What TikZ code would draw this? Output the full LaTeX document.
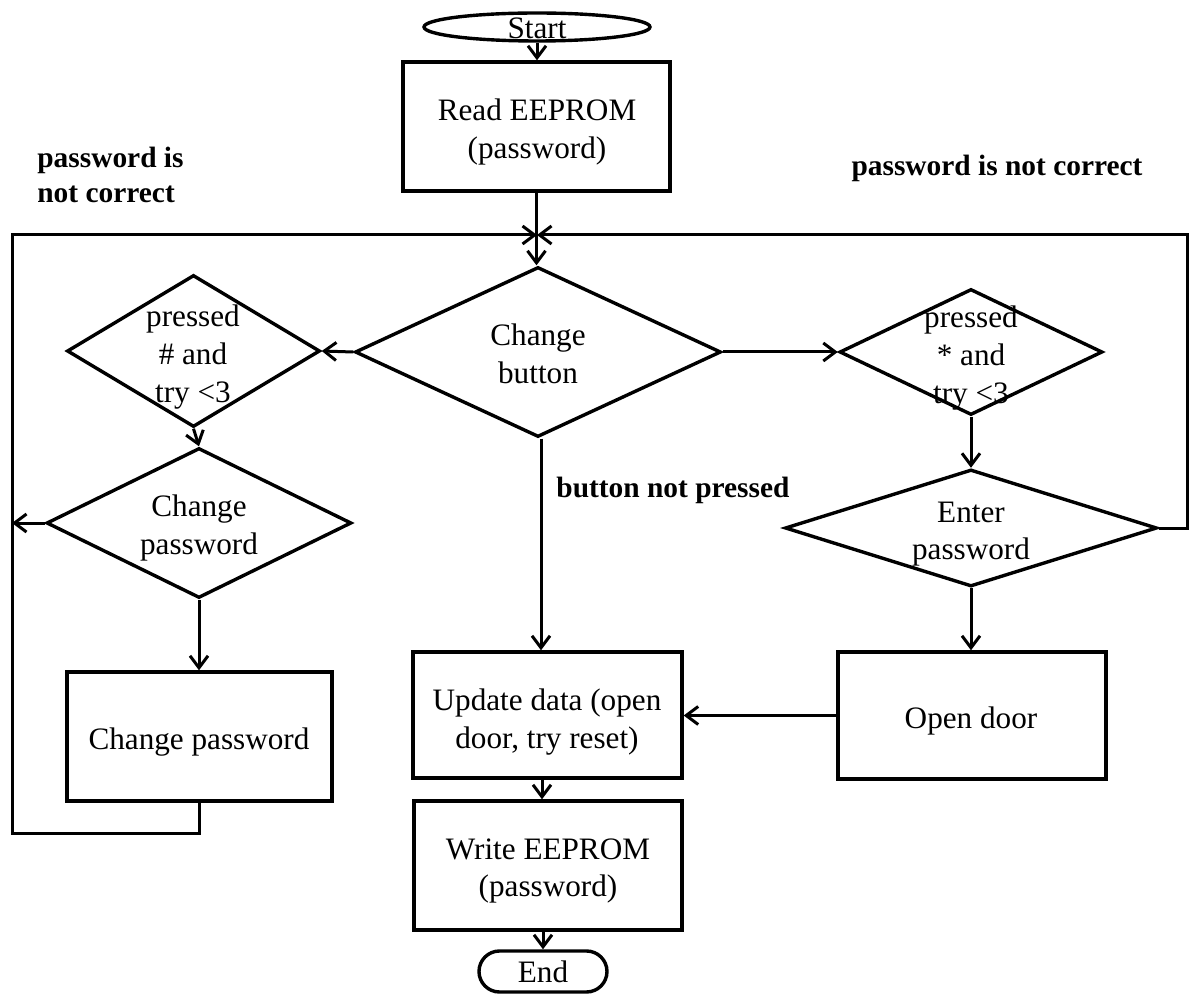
\documentclass[tikz,border=0pt]{standalone}
\usepackage{fontspec}
\setmainfont{Liberation Serif}
\usetikzlibrary{arrows.meta,shapes.geometric,shapes.misc}

\begin{document}
\begin{tikzpicture}[x=0.5pt,y=-0.5pt,
  shp/.style={draw, line width=1.7pt, inner sep=0pt},
  box/.style={shp, rectangle},
  dia/.style={shp, diamond},
  txt/.style={font=\fontsize{15.6}{18.8}\selectfont, align=center, inner sep=0pt},
  note/.style={font=\fontsize{14.7}{17.5}\selectfont\bfseries, align=left, inner sep=0pt},
  ln/.style={line width=1.5pt},
  arr/.style={ln, -{Straight Barb[length=6pt,width=9pt,line width=1.5pt]}}]
\useasboundingbox (0,0) rectangle (1194,994);

% terminals
\node[shp, ellipse, minimum width=113pt, minimum height=14pt] (start) at (537,27) {};
\node[txt] (tstart) at (537,28) {Start};
\node[shp, rounded rectangle, minimum width=64pt, minimum height=20.5pt] (end) at (543,971.5) {};
\node[txt] (tend) at (543,972) {End};

% process boxes
\node[box, minimum width=133.5pt, minimum height=64.5pt] (read) at (536.5,126.5) {};
\node[txt] (tread) at (537,132) {Read EEPROM\\(password)};
\node[box, minimum width=134.5pt, minimum height=63pt] (upd) at (547.5,715) {};
\node[txt] (tupd) at (547,722) {Update data (open\\door, try reset)};
\node[box, minimum width=134pt, minimum height=63.5pt] (open) at (972,715.5) {};
\node[txt] (topen) at (971,721) {Open door};
\node[box, minimum width=134pt, minimum height=64.5pt] (write) at (548,865.5) {};
\node[txt] (twrite) at (548,871) {Write EEPROM\\(password)};
\node[box, minimum width=132.5pt, minimum height=64.5pt] (chg) at (199.5,736.5) {};
\node[txt] (tchg) at (199,742) {Change password};

% decisions
\node[dia, minimum width=183pt, minimum height=85pt] (dc) at (538,352) {};
\node[txt] (tdc) at (538,354) {Change\\button};
\node[dia, minimum width=126.5pt, minimum height=76pt] (dl1) at (193.5,351) {};
\node[txt] (tdl1) at (193,357) {pressed\\\# and\\try <3};
\node[dia, minimum width=152.5pt, minimum height=75pt] (dl2) at (199,523) {};
\node[txt] (tdl2) at (199,528) {Change\\password};
\node[dia, minimum width=131.5pt, minimum height=63pt] (dr1) at (971,352) {};
\node[txt] (tdr1) at (971,358) {pressed\\* and\\try <3};
\node[dia, minimum width=186pt, minimum height=58.5pt] (dr2) at (971,528) {};
\node[txt] (tdr2) at (971,534) {Enter\\password};

% free labels
\node[note, anchor=west] (nl) at (37,175) {password is\\not correct};
\node[note] (nr) at (997,168) {password is not correct};
\node[note, anchor=west] (nb) at (556,490) {button not pressed};

% loop corners
\coordinate (J) at (537,235);
\coordinate (lb) at (12,833);
\coordinate (rt) at (1187,235);

% main flow
\draw[arr] (start.south) -- (start.south |- read.north);
\draw[arr] (read.south) -- (read.south |- dc.north);
\draw[arr] (dc.west) -- (dl1.east);
\draw[arr] (dc.east) -- (dr1.west);
\draw[arr] ([xshift=1.5pt]dc.south) -- ([xshift=1.5pt]dc.south |- upd.north);
\draw[arr] (dl1.south) -- (dl2.north);
\draw[arr] (dl2.south) -- (dl2.south |- chg.north);
\draw[arr] (dr1.south) -- (dr2.north);
\draw[arr] (dr2.south) -- (dr2.south |- open.north);
\draw[arr] (open.west) -- (open.west -| upd.east);
\draw[arr] ([xshift=-2.75pt]upd.south) -- ([xshift=-2.75pt]upd.south |- write.north);
\draw[arr] (write.south -| end.north) -- (end.north);

% return loops
\draw[arr] (dl2.west) -- (dl2.west -| lb);
\draw[arr] (chg.south) |- (lb) |- (J);
\draw[arr] (dr2.east) -| (rt) -- (J);
\end{tikzpicture}
\end{document}
